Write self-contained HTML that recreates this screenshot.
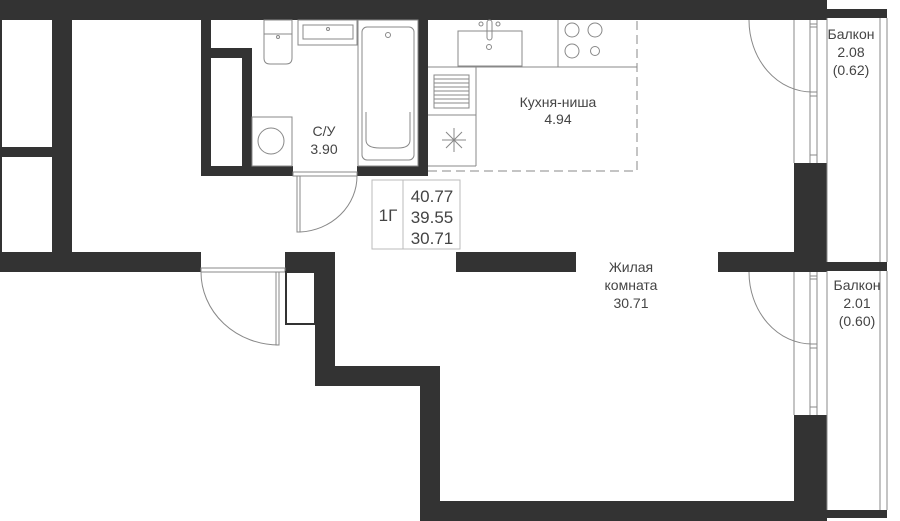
<!DOCTYPE html>
<html><head><meta charset="utf-8"><style>
html,body{margin:0;padding:0;background:#fff;}
svg{display:block;}
text{font-family:"Liberation Sans",sans-serif;font-size:14px;fill:#444;text-anchor:middle;}
</style></head><body>
<svg width="900" height="521" viewBox="0 0 900 521" xmlns="http://www.w3.org/2000/svg">
<g fill="#333">
<rect x="0" y="0" width="827" height="20"/>
<rect x="827" y="9" width="60" height="9"/>
<rect x="0" y="0" width="2" height="272"/>
<rect x="52" y="20" width="20" height="233"/>
<rect x="0" y="147" width="52" height="10"/>
<rect x="0" y="252" width="201" height="20"/>
<rect x="201" y="20" width="10" height="156"/>
<rect x="201" y="48" width="51" height="10"/>
<rect x="242" y="48" width="10" height="128"/>
<rect x="201" y="166" width="92" height="10"/>
<rect x="357" y="166" width="71" height="10"/>
<rect x="418" y="20" width="10" height="156"/>
<rect x="285" y="252" width="50" height="20"/>
<rect x="315" y="252" width="20" height="134"/>
<rect x="315" y="366" width="125" height="20"/>
<rect x="420" y="366" width="20" height="155"/>
<rect x="420" y="501" width="407" height="20"/>
<rect x="456" y="252" width="120" height="20"/>
<rect x="794" y="163" width="33" height="109"/>
<rect x="718" y="252" width="109" height="20"/>
<rect x="827" y="262" width="60" height="9"/>
<rect x="794" y="415" width="33" height="106"/>
<rect x="827" y="510" width="60" height="8"/>
</g>
<g fill="none" stroke="#888" stroke-width="1">
<!-- bathroom fixtures -->
<rect x="264" y="20" width="28" height="14"/>
<path d="M264 34 H292 V58 Q292 64 286 64 H270 Q264 64 264 58 Z"/>
<circle cx="278" cy="37" r="1.5"/>
<rect x="298" y="20" width="59" height="25"/>
<rect x="303" y="25" width="50" height="14"/>
<circle cx="328" cy="29" r="1.5"/>
<rect x="358" y="20" width="60" height="146"/>
<rect x="362" y="27" width="52" height="133" rx="5"/>
<path d="M366 112 V140 Q366 148 380 148 H398 Q410 148 410 140 V112"/>
<circle cx="388" cy="35" r="2.5"/>
<rect x="252" y="117" width="40" height="49"/>
<circle cx="271" cy="141" r="13"/>
<!-- bathroom door -->
<rect x="293" y="172" width="64" height="4"/>
<rect x="297" y="176" width="3" height="56"/>
<path d="M300 232 A60 56 0 0 0 357 176"/>
<!-- kitchen -->
<line x1="428" y1="67" x2="637" y2="67"/>
<line x1="558" y1="20" x2="558" y2="67"/>
<rect x="458" y="31" width="64" height="35"/>
<rect x="487" y="20" width="5" height="20" rx="2.5"/>
<circle cx="481" cy="24" r="2"/><circle cx="498" cy="24" r="2"/><circle cx="489" cy="47" r="2.5"/>
<circle cx="572" cy="30" r="7"/><circle cx="595" cy="30" r="7"/><circle cx="572" cy="51" r="7"/><circle cx="595" cy="51" r="4.5"/>
<line x1="476" y1="67" x2="476" y2="166"/>
<line x1="428" y1="115" x2="476" y2="115"/>
<line x1="428" y1="166" x2="476" y2="166"/>
<rect x="434" y="75" width="35" height="33"/>
<path d="M434 79H469M434 83H469M434 87H469M434 91H469M434 95H469M434 99H469M434 103H469"/>
<path d="M442 140H466M454 128V152M446 132L462 148M462 132L446 148"/>
<path d="M428 171 H637 V20" stroke-dasharray="9 5"/>
<!-- info box -->
<rect x="372" y="180" width="88" height="69" stroke="#bbb"/>
<line x1="403" y1="180" x2="403" y2="249" stroke="#bbb"/>
<!-- entrance door -->
<rect x="201" y="268" width="84" height="4"/>
<rect x="276" y="272" width="3" height="73"/>
<path d="M201 272 A78 73 0 0 0 279 345"/>
<!-- balconies windows -->
<line x1="794" y1="20" x2="794" y2="163"/>
<line x1="810" y1="20" x2="810" y2="163"/>
<line x1="817" y1="20" x2="817" y2="163"/>
<line x1="827" y1="18" x2="827" y2="262"/>
<line x1="880" y1="18" x2="880" y2="262"/>
<line x1="887" y1="18" x2="887" y2="262"/>
<line x1="794" y1="272" x2="794" y2="415"/>
<line x1="810" y1="272" x2="810" y2="415"/>
<line x1="817" y1="272" x2="817" y2="415"/>
<line x1="827" y1="271" x2="827" y2="510"/>
<line x1="880" y1="271" x2="880" y2="510"/>
<line x1="887" y1="271" x2="887" y2="510"/>
<path d="M810 24H817M810 27H817M810 92H817M810 96H817M810 155H817"/>
<path d="M810 276H817M810 279H817M810 344H817M810 348H817M810 407H817"/>
<path d="M749 20 A63 72 0 0 0 812 92"/>
<path d="M749 272 A63 72 0 0 0 812 344"/>
</g>
<rect x="286" y="272" width="29" height="52" fill="none" stroke="#333" stroke-width="2"/>
<text x="324" y="136">С/У</text>
<text x="324" y="154">3.90</text>
<text x="558" y="107">Кухня-ниша</text>
<text x="558" y="124">4.94</text>
<text x="631" y="272">Жилая</text>
<text x="631" y="290">комната</text>
<text x="631" y="308">30.71</text>
<text x="851" y="39">Балкон</text>
<text x="851" y="57">2.08</text>
<text x="851" y="75">(0.62)</text>
<text x="857" y="290">Балкон</text>
<text x="857" y="308">2.01</text>
<text x="857" y="326">(0.60)</text>
<text x="388" y="221" style="font-size:17px">1Г</text>
<text x="432" y="202" style="font-size:17px">40.77</text>
<text x="432" y="223" style="font-size:17px">39.55</text>
<text x="432" y="244" style="font-size:17px">30.71</text>
</svg>
</body></html>
